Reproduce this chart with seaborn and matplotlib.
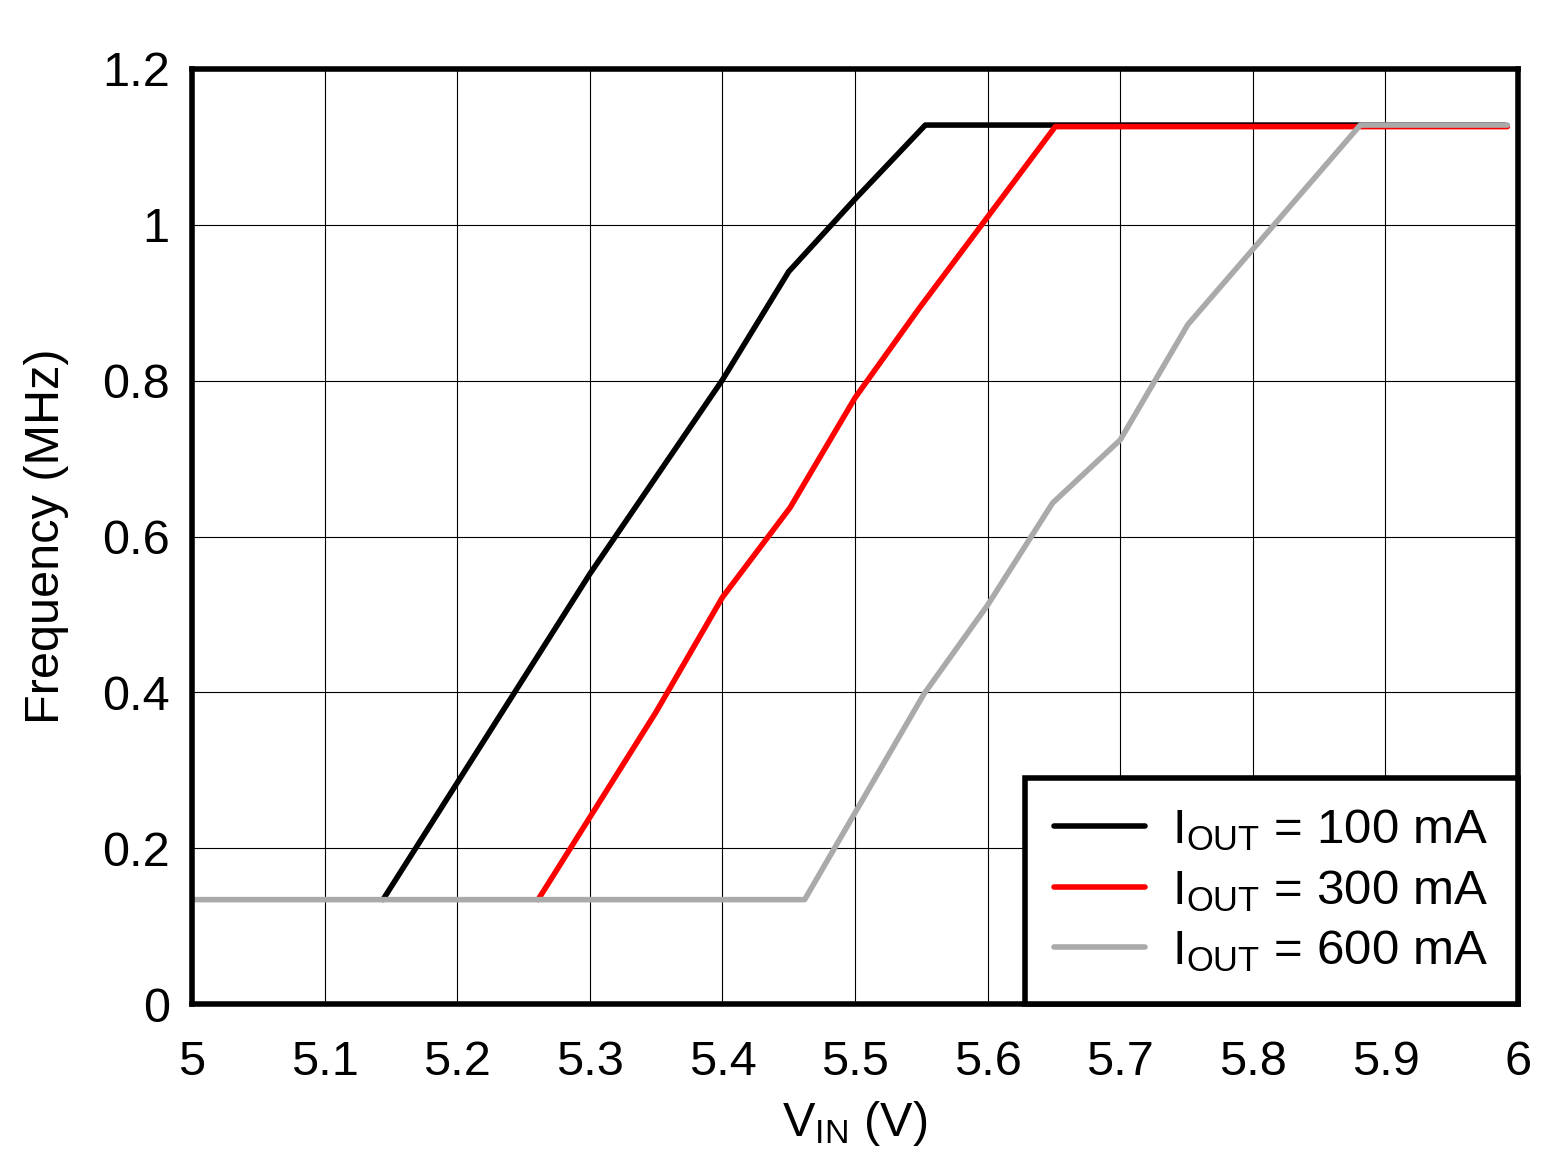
import matplotlib
matplotlib.use("Agg")
import matplotlib.pyplot as plt
import pandas as pd
import seaborn as sns

vin_100 = [5.144, 5.2, 5.3, 5.4, 5.45, 5.5, 5.553, 5.99]
freq_100 = [0.134, 0.284, 0.552, 0.801, 0.94, 1.033, 1.128, 1.128]

vin_300 = [5.261, 5.35, 5.4, 5.451, 5.5, 5.548, 5.651, 5.992]
freq_300 = [0.134, 0.375, 0.522, 0.637, 0.778, 0.892, 1.126, 1.126]

vin_600 = [5.0, 5.462, 5.552, 5.6, 5.649, 5.7, 5.751, 5.881, 5.992]
freq_600 = [0.134, 0.134, 0.398, 0.512, 0.643, 0.724, 0.872, 1.128, 1.128]

labels = [r"I$_{\mathregular{OUT}}$ = 100 mA",
          r"I$_{\mathregular{OUT}}$ = 300 mA",
          r"I$_{\mathregular{OUT}}$ = 600 mA"]
colors = ["#000000", "#ff0000", "#aaaaaa"]


def main():
    frames = []
    for v, f, lab in [(vin_100, freq_100, labels[0]),
                      (vin_300, freq_300, labels[1]),
                      (vin_600, freq_600, labels[2])]:
        frames.append(pd.DataFrame({"vin": v, "freq": f, "series": lab}))
    df = pd.concat(frames, ignore_index=True)

    sns.set_theme(style="white")
    plt.rcParams["font.family"] = ["Liberation Sans", "DejaVu Sans"]
    plt.rcParams["mathtext.fontset"] = "custom"
    plt.rcParams["mathtext.rm"] = "Liberation Sans"
    plt.rcParams["mathtext.it"] = "Liberation Sans"
    plt.rcParams["text.color"] = "black"
    plt.rcParams["axes.labelcolor"] = "black"

    fig = plt.figure(figsize=(15.64, 11.59), dpi=100)
    ax = fig.add_axes([0.1228, 0.1337, 0.8478, 0.8068])

    sns.lineplot(data=df, x="vin", y="freq", hue="series", palette=colors,
                 hue_order=labels, sort=False, estimator=None, linewidth=4,
                 ax=ax)

    ax.set_xlim(5, 6)
    ax.set_ylim(0, 1.2)
    ax.set_xticks([5, 5.1, 5.2, 5.3, 5.4, 5.5, 5.6, 5.7, 5.8, 5.9, 6])
    ax.set_xticklabels(["5", "5.1", "5.2", "5.3", "5.4", "5.5", "5.6",
                        "5.7", "5.8", "5.9", "6"])
    ax.set_yticks([0, 0.2, 0.4, 0.6, 0.8, 1, 1.2])
    ax.set_yticklabels(["0", "0.2", "0.4", "0.6", "0.8", "1", "1.2"])
    ax.grid(True, color="black", linewidth=0.8)
    ax.tick_params(length=0, labelsize=35, colors="black")
    ax.tick_params(axis="x", pad=26)
    ax.tick_params(axis="y", pad=16)
    for s in ax.spines.values():
        s.set_linewidth(4)
        s.set_color("black")

    ax.set_xlabel(r"V$_{\mathregular{IN}}$ (V)", fontsize=35, labelpad=10)
    ax.set_ylabel("Frequency (MHz)", fontsize=35, labelpad=24)

    leg = ax.legend(loc="lower right", fontsize=35.5, frameon=True,
                    fancybox=False, framealpha=1, borderaxespad=0,
                    handlelength=1.85, handletextpad=0.55, borderpad=0.6,
                    labelspacing=0.3)
    leg.get_frame().set_edgecolor("black")
    leg.get_frame().set_linewidth(4)
    for line in leg.get_lines():
        line.set_linewidth(4)
    for t in leg.get_texts():
        t.set_color("black")

    fig.savefig("out.png", dpi=100)


if __name__ == "__main__":
    main()
